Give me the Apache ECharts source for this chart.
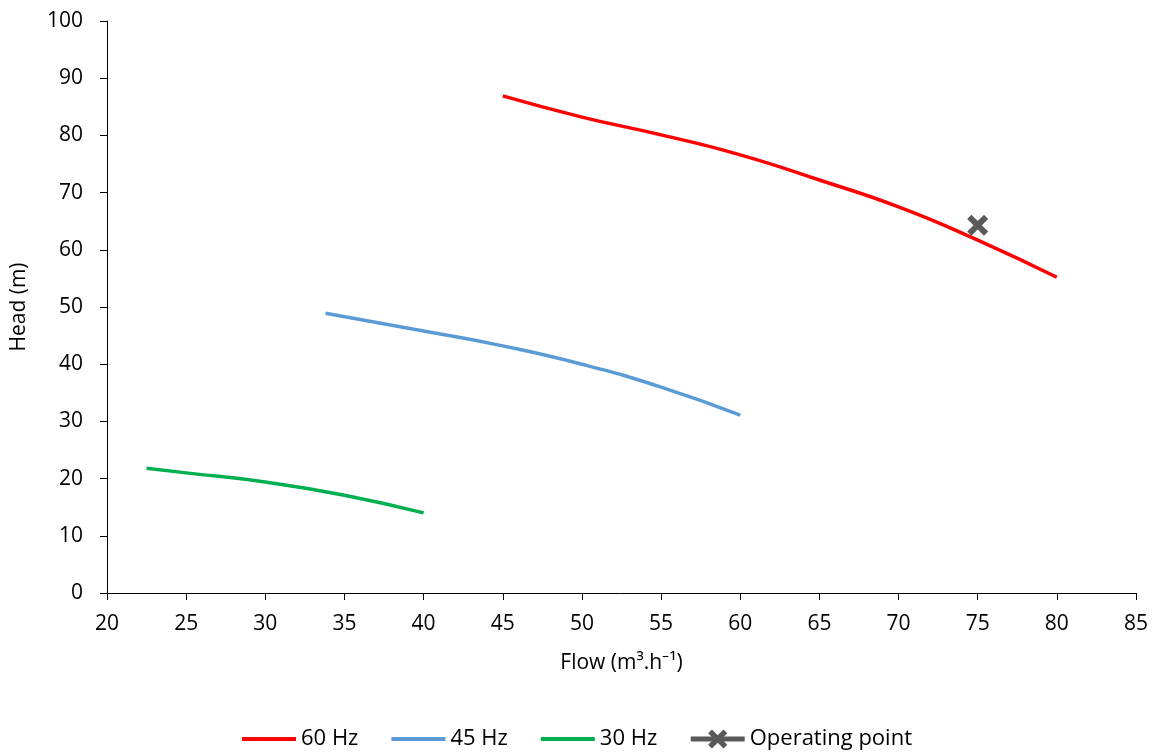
<!DOCTYPE html>
<html><head><meta charset="utf-8">
<script src="https://cdn.jsdelivr.net/npm/echarts@6/dist/echarts.min.js"></script>
<style>html,body{margin:0;padding:0;background:#fff}#c{width:1152px;height:752px}</style>
</head><body><div id="c"></div>
<script>
const hz60 = [[45,86.9],[50,83.2],[55,80.1],[60,76.6],[65,72.2],[70,67.5],[75,61.7],[80,55.2]];
const hz45 = [[33.8,48.9],[40,45.8],[45,43.2],[50,40.0],[55,36.0],[60,31.1]];
const hz30 = [[22.5,21.8],[25,21.0],[30,19.4],[35,17.1],[40,14.0]];
const operatingPoint = [[75,64.3]];
const seriesNames = ['60 Hz','45 Hz','30 Hz','Operating point'];
const FONT = '"Open Sans", sans-serif';
const FS = 21;
const xMark = 'path://M2,0 L5,3 L8,0 L10,2 L7,5 L10,8 L8,10 L5,7 L2,10 L0,8 L3,5 L0,2 Z';
const chart = echarts.init(document.getElementById('c'));
chart.setOption({
  animation:false,
  textStyle:{fontFamily:FONT},
  grid:{left:107,right:16,top:21,bottom:159,containLabel:false},
  legend:{top:723,left:'center',itemWidth:54,itemHeight:24,itemGap:31,
    textStyle:{fontSize:22,color:'#000',fontFamily:FONT},
    data:[
      {name:seriesNames[0],itemStyle:{opacity:0},lineStyle:{width:4}},
      {name:seriesNames[1],itemStyle:{opacity:0},lineStyle:{width:4}},
      {name:seriesNames[2],itemStyle:{opacity:0},lineStyle:{width:4}},
      {name:seriesNames[3],lineStyle:{width:5}}
    ]},
  xAxis:{type:'value',min:20,max:85,interval:5,
    name:'Flow (m³.h⁻¹)',nameLocation:'middle',nameGap:60,
    nameTextStyle:{fontSize:FS,color:'#000',fontFamily:FONT},
    axisLine:{lineStyle:{color:'#000',width:1}},
    axisTick:{show:true,length:7,lineStyle:{color:'#000'}},
    axisLabel:{fontSize:FS,color:'#000',margin:21,fontFamily:FONT},
    splitLine:{show:false}},
  yAxis:{type:'value',min:0,max:100,interval:10,
    name:'Head (m)',nameLocation:'middle',nameGap:77,
    nameTextStyle:{fontSize:FS,color:'#000',fontFamily:FONT},
    axisLine:{show:true,lineStyle:{color:'#000',width:1}},
    axisTick:{show:true,length:7,lineStyle:{color:'#000'}},
    axisLabel:{fontSize:FS,color:'#000',margin:24,fontFamily:FONT},
    splitLine:{show:false}},
  series:[
    {name:seriesNames[0],type:'line',data:hz60,smooth:true,symbol:'none',lineStyle:{color:'#FF0000',width:3.5},itemStyle:{color:'#FF0000'}},
    {name:seriesNames[1],type:'line',data:hz45,smooth:true,symbol:'none',lineStyle:{color:'#5B9BD5',width:3.5},itemStyle:{color:'#5B9BD5'}},
    {name:seriesNames[2],type:'line',data:hz30,smooth:true,symbol:'none',lineStyle:{color:'#00B050',width:3.5},itemStyle:{color:'#00B050'}},
    {name:seriesNames[3],type:'line',data:operatingPoint,symbol:xMark,symbolSize:21,showSymbol:true,lineStyle:{color:'#595959',width:5},itemStyle:{color:'#595959'}}
  ]
});
</script></body></html>
